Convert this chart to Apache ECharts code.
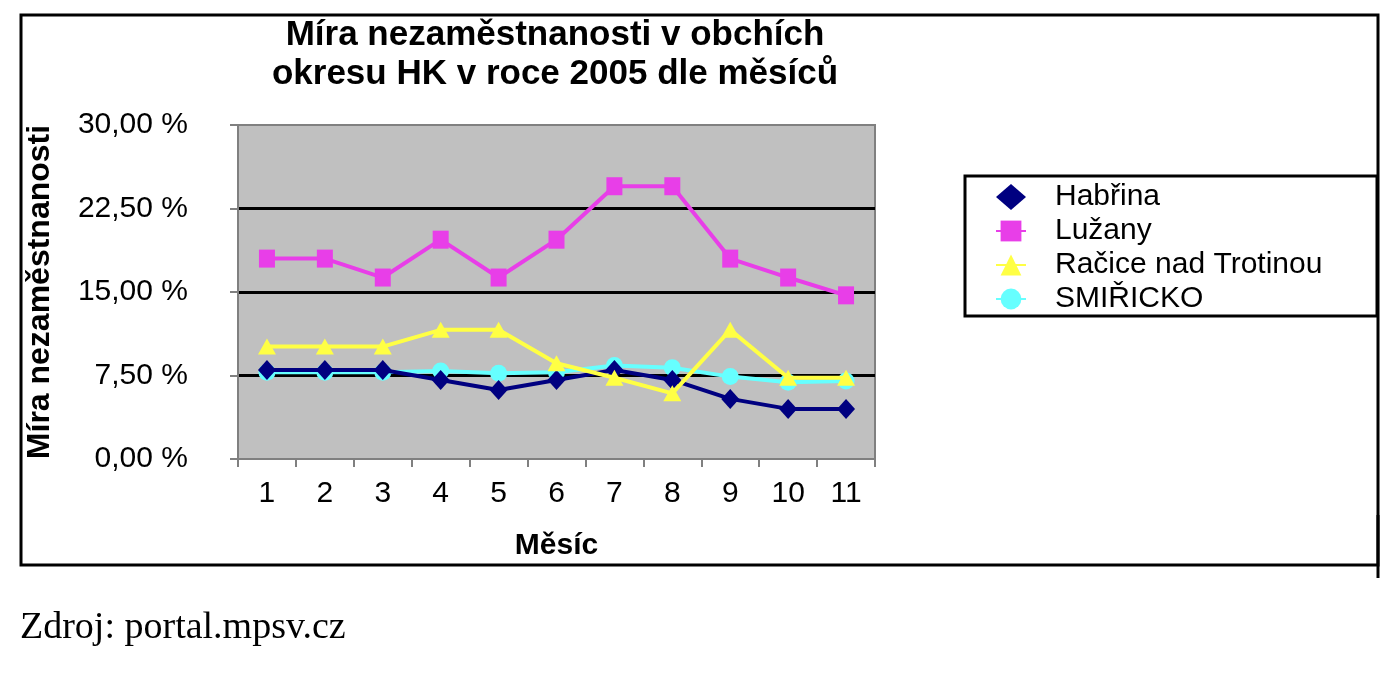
<!DOCTYPE html>
<html>
<head>
<meta charset="utf-8">
<script src="https://cdn.jsdelivr.net/npm/echarts@6/dist/echarts.min.js"></script>
<style>
  html, body { margin: 0; padding: 0; background: #fff; }
  #chart { width: 1400px; height: 688px; }
</style>
</head>
<body>
<div id="chart"></div>
<script>
// data (months 1-11, 2005)
var months = ['1', '2', '3', '4', '5', '6', '7', '8', '9', '10', '11'];
var habrina = [8.0, 8.0, 8.0, 7.1, 6.2, 7.1, 8.0, 7.1, 5.4, 4.5, 4.5];
var luzany = [18.0, 18.0, 16.3, 19.7, 16.3, 19.7, 24.5, 24.5, 18.0, 16.3, 14.7];
var racice = [10.1, 10.1, 10.1, 11.6, 11.6, 8.6, 7.3, 5.9, 11.6, 7.3, 7.3];
var smiricko = [7.8, 7.8, 7.8, 7.9, 7.7, 7.8, 8.4, 8.2, 7.4, 6.9, 7.0];
var seriesNames = ['Habřina', 'Lužany', 'Račice nad Trotinou', 'SMIŘICKO'];

var chart = echarts.init(document.getElementById('chart'));
var font = 'Liberation Sans, Arial, sans-serif';

function line(name, data, color, symbol, size, z) {
    return {
        name: name,
        type: 'line',
        data: data,
        z: z,
        symbol: symbol,
        symbolSize: size,
        showAllSymbol: true,
        lineStyle: { color: color, width: 4 },
        itemStyle: { color: color, borderWidth: 0 },
        emphasis: { disabled: true },
        animation: false
    };
}

var option = {
    animation: false,
    textStyle: { fontFamily: font },
    grid: {
        left: 238, top: 125, right: 525, bottom: 229,
        show: true,
        backgroundColor: '#c0c0c0',
        borderColor: '#808080',
        borderWidth: 2
    },
    legend: {
        orient: 'vertical',
        left: 995,
        top: 182,
        padding: 0,
        itemWidth: 30,
        itemHeight: 26,
        itemGap: 4,
        data: [
            { name: seriesNames[0], icon: 'diamond' },
            { name: seriesNames[1] },
            { name: seriesNames[2] },
            { name: seriesNames[3] }
        ],
        textStyle: { fontSize: 30, fontFamily: font, color: '#000', padding: [0, 0, 0, 24] }
    },
    xAxis: {
        type: 'category',
        data: months,
        boundaryGap: true,
        name: 'Měsíc',
        nameLocation: 'middle',
        nameGap: 72,
        nameTextStyle: { fontSize: 30, fontWeight: 'bold', color: '#000', fontFamily: font },
        axisLine: { lineStyle: { color: '#808080', width: 2 } },
        axisTick: { show: true, inside: false, length: 8, lineStyle: { color: '#808080', width: 2 } },
        axisLabel: { fontSize: 30, color: '#000', margin: 20, fontFamily: font }
    },
    yAxis: {
        type: 'value',
        min: 0, max: 30, interval: 7.5,
        name: 'Míra nezaměstnanosti',
        nameLocation: 'middle',
        nameGap: 182,
        nameRotate: 90,
        nameTextStyle: { fontSize: 32, fontWeight: 'bold', color: '#000', fontFamily: font },
        axisLine: { show: true, lineStyle: { color: '#808080', width: 2 } },
        axisTick: { show: true, length: 8, lineStyle: { color: '#808080', width: 2 } },
        axisLabel: {
            fontSize: 30, color: '#000', margin: 50, fontFamily: font,
            formatter: function (v) { return v.toFixed(2).replace('.', ',') + ' %'; }
        },
        splitLine: { show: true, lineStyle: { color: ['transparent', '#000', '#000', '#000', 'transparent'], width: 3 } }
    },
    graphic: [
        { type: 'rect', shape: { x: 21, y: 15, width: 1357, height: 550 }, style: { fill: 'none', stroke: '#000', lineWidth: 3 }, z: -10 },
        { type: 'line', shape: { x1: 1378, y1: 515, x2: 1378, y2: 578 }, style: { stroke: '#000', lineWidth: 3 } },
        { type: 'rect', shape: { x: 965, y: 176, width: 412, height: 140 }, style: { fill: '#fff', stroke: '#000', lineWidth: 3 }, z: -5 },
        {
            type: 'text', x: 555, y: 16,
            style: {
                text: 'Míra nezaměstnanosti v obchích\nokresu HK v roce 2005 dle měsíců',
                font: 'bold 35px ' + font, fill: '#000', align: 'center', verticalAlign: 'top', lineHeight: 39
            }
        },
        {
            type: 'text', x: 20, y: 628,
            style: { text: 'Zdroj: portal.mpsv.cz', font: '38px Liberation Serif, Times New Roman, serif', fill: '#000', verticalAlign: 'middle' }
        }
    ],
    series: [
        line(seriesNames[3], smiricko, '#66ffff', 'circle', 17, 2),
        line(seriesNames[0], habrina, '#000080', 'diamond', [18, 20], 3),
        line(seriesNames[2], racice, '#ffff44', 'triangle', [18, 16], 4),
        line(seriesNames[1], luzany, '#e83ee8', 'rect', [16, 18], 5)
    ]
};
chart.setOption(option);
</script>
</body>
</html>
